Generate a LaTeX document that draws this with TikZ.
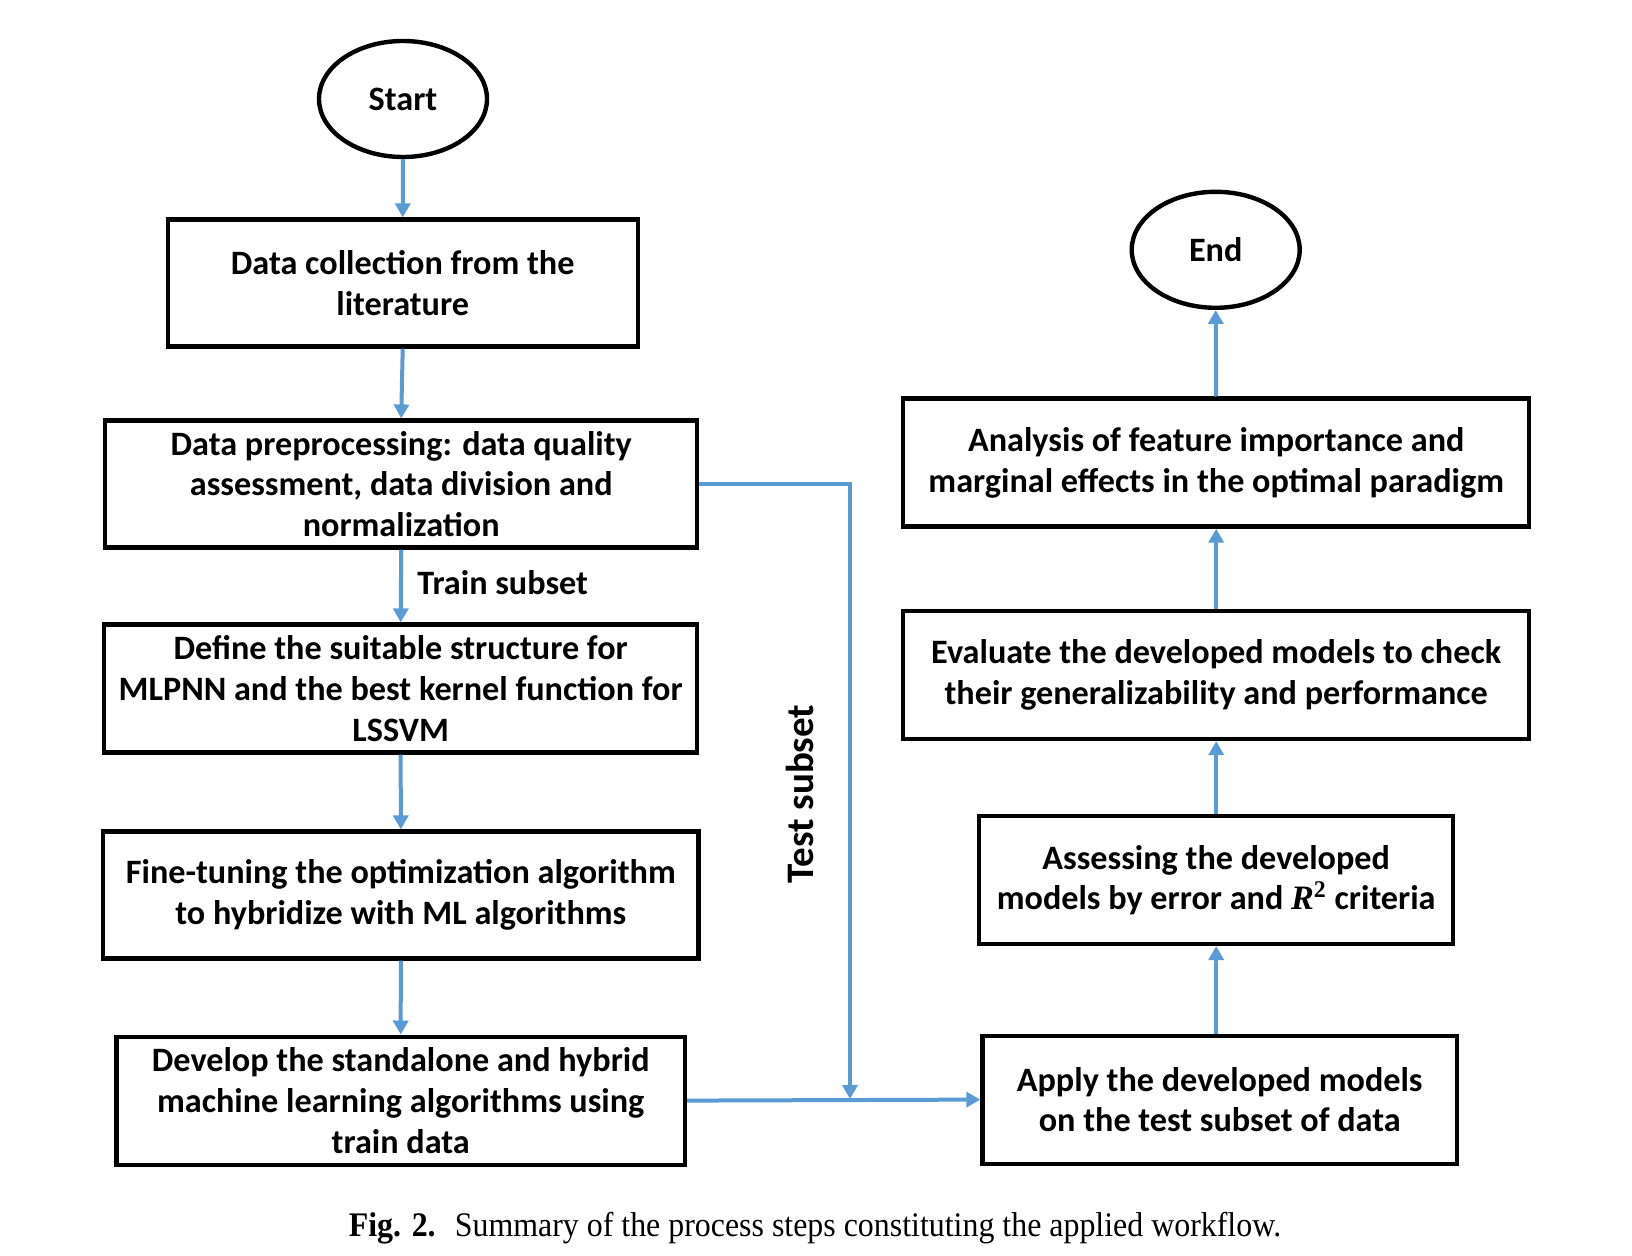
\documentclass[tikz,border=0pt]{standalone}
\usepackage{fontspec}
\setmainfont{Carlito}
\newfontfamily\capfont{Liberation Serif}
\usetikzlibrary{arrows.meta,shapes.geometric}
\definecolor{flowblue}{HTML}{5B9BD5}
\newcommand{\boxfont}{\fontsize{17.1}{20.3}\selectfont\bfseries}
\tikzset{
  stepbox/.style={draw=black, line width=2.1pt, inner sep=0pt, align=center,
    font=\boxfont},
  term/.style={draw=black, line width=2.2pt, ellipse, inner sep=0pt,
    minimum width=84pt, minimum height=58pt, font=\boxfont},
  flow/.style={draw=flowblue, line width=2pt, -{Triangle[width=7.5pt,length=7pt]}},
  lbl/.style={font=\boxfont, inner sep=0pt}
}
\begin{document}
\begin{tikzpicture}[x=0.5pt,y=-0.5pt]
\useasboundingbox (0,0) rectangle (1632,1256);
\node[term] (start) at (403,99) {Start};
\node[term] (end) at (1215.7,249.8) {End};
\node[stepbox, minimum width=235pt, minimum height=63.5pt] (b1) at (402.7,283) {Data collection from the\\literature};
\node[stepbox, minimum width=296pt, minimum height=63.5pt] (b2) at (401.2,484) {Data preprocessing: data quality\\assessment, data division and\\normalization};
\node[stepbox, minimum width=296.5pt, minimum height=64pt] (b3) at (400.7,688.5) {Define the suitable structure for\\MLPNN and the best kernel function for\\LSSVM};
\node[stepbox, minimum width=297.75pt, minimum height=63.5pt] (b4) at (400.8,895) {Fine-tuning the optimization algorithm\\to hybridize with ML algorithms};
\node[stepbox, minimum width=284.25pt, minimum height=64pt] (b5) at (400.7,1100.6) {Develop the standalone and hybrid\\machine learning algorithms using\\train data};
\node[stepbox, minimum width=312.85pt, minimum height=64pt] (r1) at (1216.2,462.6) {Analysis of feature importance and\\marginal effects in the optimal paradigm};
\node[stepbox, minimum width=312.85pt, minimum height=64pt] (r2) at (1216.2,675) {Evaluate the developed models to check\\their generalizability and performance};
\node[stepbox, minimum width=236.85pt, minimum height=64pt] (r3) at (1216.2,880) {Assessing the developed\\models by error and {\capfont\bfseries\itshape R}\textsuperscript{\capfont 2} criteria};
\node[stepbox, minimum width=237.3pt, minimum height=64pt] (r4) at (1219.7,1099.6) {Apply the developed models\\on the test subset of data};
\node[lbl, anchor=west] (train) at (417,583) {Train subset};
\node[lbl, rotate=90, font=\fontsize{19.5}{22}\selectfont\bfseries] (test) at (800,794) {Test subset};
\node[inner sep=0pt] (cap) at (815,1228) {\capfont\fontsize{15.95}{18}\selectfont\scalebox{1}[1.08]{\textbf{Fig. 2.}\hspace{0.6em}Summary of the process steps constituting the applied workflow.}};
\coordinate (j) at (850,1099);
\draw[flow] (start.south) -- (b1.north);
\draw[flow] (b1.south) -- (b2.north);
\draw[flow] (b2.south) -- (b3.north);
\draw[flow] (b3.south) -- (b4.north);
\draw[flow] (b4.south) -- (b5.north);
\draw[flow] (b2.east) -| (j);
\draw[flow] (b5.east) -- (r4.west);
\draw[flow] (r4.north -| r3.south) -- (r3.south);
\draw[flow] (r3.north) -- (r2.south);
\draw[flow] (r2.north) -- (r1.south);
\draw[flow] (r1.north) -- (end.south);
\end{tikzpicture}
\end{document}
